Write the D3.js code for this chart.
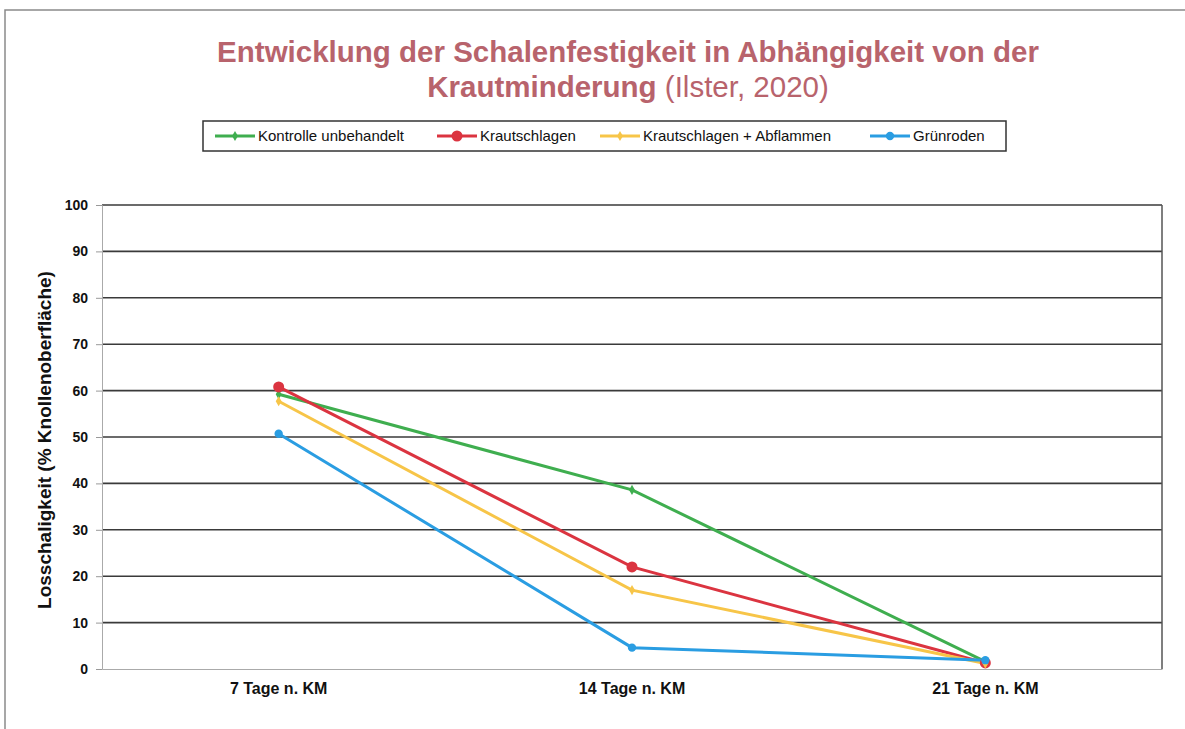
<!doctype html>
<html lang="de">
<head>
	<meta charset="utf-8">
	<title>Schalenfestigkeit</title>
	<script src="https://cdnjs.cloudflare.com/ajax/libs/d3/7.8.5/d3.min.js"></script>
	<style>
		body { margin: 0; background: #fff; }
		text { font-family: "Liberation Sans", Arial, sans-serif; }
	</style>
</head>
<body>
<div id="chart"></div>
<script>
/* data */
var categories = ['7 Tage n. KM', '14 Tage n. KM', '21 Tage n. KM'];
var seriesNames = ['Kontrolle unbehandelt', 'Krautschlagen', 'Krautschlagen + Abflammen', 'Grünroden'];
var kontrolle = [59.2, 38.6, 1.6];
var krautschlagen = [60.8, 22.0, 1.3];
var abflammen = [57.7, 17.0, 1.2];
var gruenroden = [50.7, 4.6, 1.9];
var yTicks = [0, 10, 20, 30, 40, 50, 60, 70, 80, 90, 100];

/* view */
var size = { width: 1185, height: 729 };
var plot = { left: 102, right: 1162, top: 205, bottom: 669 };
var colors = ['#3fae4f', '#db3440', '#f7c548', '#2a9de2'];
var markers = [
	{ type: d3.symbolDiamond, size: 30 },
	{ type: d3.symbolCircle, size: 95 },
	{ type: d3.symbolDiamond, size: 30 },
	{ type: d3.symbolCircle, size: 55 }
];
var series = [kontrolle, krautschlagen, abflammen, gruenroden];
var legendX = [215, 437, 600, 870];

var svg = d3.select('#chart')
	.append('svg')
	.attr('width', size.width)
	.attr('height', size.height);

// outer frame
svg.append('path')
	.attr('d', 'M5,' + size.height + 'V10H' + size.width)
	.style('fill', 'none')
	.style('stroke', '#8a8a8a')
	.style('stroke-width', 1.5);

var x = d3.scaleBand()
	.domain(categories)
	.range([plot.left, plot.right]);

var y = d3.scaleLinear()
	.domain([0, 100])
	.range([plot.bottom, plot.top]);

// gridlines
svg.append('g')
	.selectAll('line')
	.data(yTicks.filter(function(d){ return d > 0; }))
	.enter().append('line')
	.attr('x1', plot.left)
	.attr('x2', plot.right)
	.attr('y1', function(d){ return y(d); })
	.attr('y2', function(d){ return y(d); })
	.style('stroke', '#3a3a3a')
	.style('stroke-width', 1.6);

// right border
svg.append('line')
	.attr('x1', plot.right).attr('x2', plot.right)
	.attr('y1', plot.top).attr('y2', plot.bottom)
	.style('stroke', '#555')
	.style('stroke-width', 1.5);

// y axis
var yAxis = svg.append('g')
	.attr('transform', 'translate(' + plot.left + ',0)')
	.call(d3.axisLeft(y).tickValues(yTicks).tickSize(6).tickPadding(8));
yAxis.select('.domain').style('stroke', '#aaa');
yAxis.selectAll('.tick line').style('stroke', '#999');
yAxis.selectAll('.tick text')
	.style('font-family', '"Liberation Sans", Arial, sans-serif')
	.style('font-size', '14px')
	.style('font-weight', 'bold')
	.style('fill', '#111');

// x axis
var xAxis = svg.append('g')
	.attr('transform', 'translate(0,' + plot.bottom + ')')
	.call(d3.axisBottom(x).tickSize(0).tickPadding(14));
xAxis.select('.domain').style('stroke', '#aaa');
xAxis.selectAll('.tick text')
	.style('font-family', '"Liberation Sans", Arial, sans-serif')
	.style('font-size', '16px')
	.style('font-weight', 'bold')
	.style('fill', '#111');

// y title
svg.append('text')
	.attr('transform', 'translate(51,' + 440 + ') rotate(-90)')
	.attr('text-anchor', 'middle')
	.style('font-size', '19px')
	.style('font-weight', 'bold')
	.style('fill', '#111')
	.text('Losschaligkeit (% Knollenoberfläche)');

// lines
var line = d3.line()
	.x(function(d, i){ return x(categories[i]) + x.bandwidth() / 2; })
	.y(function(d){ return y(d); });

svg.append('g')
	.selectAll('path')
	.data(series)
	.enter().append('path')
	.attr('d', line)
	.style('fill', 'none')
	.style('stroke', function(d, i){ return colors[i]; })
	.style('stroke-width', 3);

series.forEach(function(values, s){
	svg.append('g')
		.selectAll('path')
		.data(values)
		.enter().append('path')
		.attr('transform', function(d, i){
			return 'translate(' + (x(categories[i]) + x.bandwidth() / 2) + ',' + y(d) + ')';
		})
		.attr('d', d3.symbol().type(markers[s].type).size(markers[s].size))
		.style('fill', colors[s]);
});

// title
var title = svg.append('g')
	.attr('text-anchor', 'middle')
	.style('fill', '#b8636c')
	.style('font-size', '29.5px');
title.append('text')
	.attr('x', 628)
	.attr('y', 62)
	.style('font-weight', 'bold')
	.text('Entwicklung der Schalenfestigkeit in Abhängigkeit von der');
var t2 = title.append('text')
	.attr('x', 628)
	.attr('y', 97);
t2.append('tspan').style('font-weight', 'bold').text('Krautminderung');
t2.append('tspan').text(' (Ilster, 2020)');

// legend
var legend = svg.append('g');
legend.append('rect')
	.attr('x', 203).attr('y', 121)
	.attr('width', 803).attr('height', 30)
	.style('fill', '#fff')
	.style('stroke', '#333')
	.style('stroke-width', 1.5);

var item = legend.selectAll('g.item')
	.data(seriesNames)
	.enter().append('g')
	.attr('class', 'item')
	.attr('transform', function(d, i){ return 'translate(' + legendX[i] + ',136)'; });
item.append('line')
	.attr('x1', 0).attr('x2', 40)
	.style('stroke', function(d, i){ return colors[i]; })
	.style('stroke-width', 3);
item.append('path')
	.attr('transform', 'translate(20,0)')
	.attr('d', function(d, i){ return d3.symbol().type(markers[i].type).size(markers[i].size)(); })
	.style('fill', function(d, i){ return colors[i]; });
item.append('text')
	.attr('x', 43)
	.attr('dy', '0.35em')
	.style('font-size', '15px')
	.style('fill', '#111')
	.text(function(d){ return d; });
</script>
</body>
</html>
